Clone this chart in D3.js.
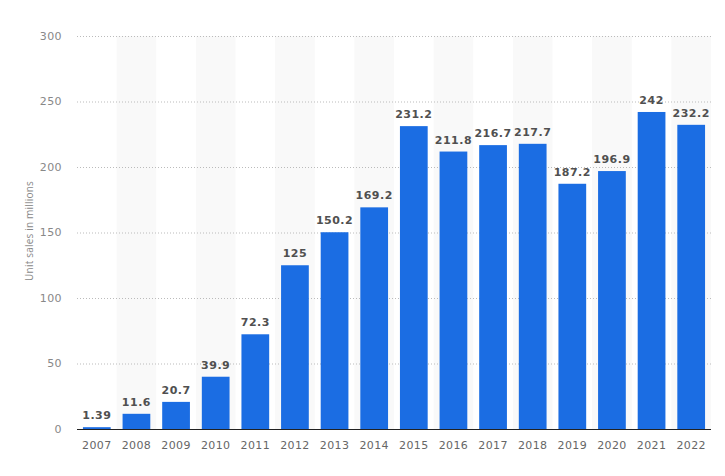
<!DOCTYPE html>
<html>
<head>
<meta charset="utf-8">
<script src="https://cdn.jsdelivr.net/npm/d3@7"></script>
<style>
  body { margin: 0; background: #fff; }
  svg { display: block; font-family: "DejaVu Sans", sans-serif; }
</style>
</head>
<body>
<div id="chart"></div>
<script>
// unit sales per year, millions
const years = ["2007","2008","2009","2010","2011","2012","2013","2014","2015","2016","2017","2018","2019","2020","2021","2022"];
const sales = [1.39, 11.6, 20.7, 39.9, 72.3, 125, 150.2, 169.2, 231.2, 211.8, 216.7, 217.7, 187.2, 196.9, 242, 232.2];
const yTicks = [0, 50, 100, 150, 200, 250, 300];

const W = 725, H = 476;
const m = {top: 36, right: 14, bottom: 47, left: 77};

const svg = d3.select("#chart").append("svg")
	.attr("width", W).attr("height", H);

const x = d3.scaleBand().domain(years).range([m.left, W - m.right]).paddingInner(0.3).paddingOuter(0.15);
const y = d3.scaleLinear().domain([0, 300]).range([H - m.bottom, m.top]);

// alternating column shading
svg.append("g").selectAll("rect").data(years.filter((d, i) => i % 2 == 1)).enter().append("rect")
	.attr("x", d => x(d) - x.step() * x.paddingInner() / 2)
	.attr("width", x.step())
	.attr("y", m.top)
	.attr("height", H - m.bottom - m.top)
	.style("fill", "#f9f9f9");

// grid
svg.append("g").selectAll("line").data(yTicks.filter(d => d > 0)).enter().append("line")
	.attr("x1", m.left).attr("x2", W - m.right)
	.attr("y1", d => y(d) + 0.5).attr("y2", d => y(d) + 0.5)
	.style("stroke", "#bbb").style("stroke-dasharray", "1,2");

// y tick labels
svg.append("g").selectAll("text").data(yTicks).enter().append("text")
	.attr("x", 62).attr("y", d => y(d)).attr("dy", "0.35em")
	.attr("text-anchor", "end")
	.style("font-size", "11px").style("fill", "#888").style("letter-spacing", "0.4px")
	.text(d => d);

svg.append("text")
	.attr("transform", "translate(33,231) rotate(-90)")
	.attr("text-anchor", "middle")
	.style("font-family", "'Open Sans', sans-serif")
	.style("font-size", "10px").style("fill", "#888").style("letter-spacing", "0.2px")
	.text("Unit sales in millions");

// bars
svg.append("g").selectAll("rect").data(sales).enter().append("rect")
	.attr("x", (d, i) => x(years[i]))
	.attr("width", x.bandwidth())
	.attr("y", d => y(d))
	.attr("height", d => y(0) - y(d))
	.style("fill", "#1b6de3");

// value labels
svg.append("g").selectAll("text").data(sales).enter().append("text")
	.attr("x", (d, i) => x(years[i]) + x.bandwidth() / 2)
	.attr("y", d => y(d) - 8)
	.attr("text-anchor", "middle")
	.style("font-size", "11px").style("font-weight", "bold").style("fill", "#505050")
	.style("letter-spacing", "0.5px")
	.text(d => d);

// baseline
svg.append("line")
	.attr("x1", m.left).attr("x2", W - m.right)
	.attr("y1", y(0) + 0.5).attr("y2", y(0) + 0.5)
	.style("stroke", "#222").style("stroke-width", 1);

// x labels
svg.append("g").selectAll("text").data(years).enter().append("text")
	.attr("x", d => x(d) + x.bandwidth() / 2)
	.attr("y", y(0) + 20)
	.attr("text-anchor", "middle")
	.style("font-size", "11px").style("fill", "#666").style("letter-spacing", "0.4px")
	.text(d => d);
</script>
</body>
</html>
